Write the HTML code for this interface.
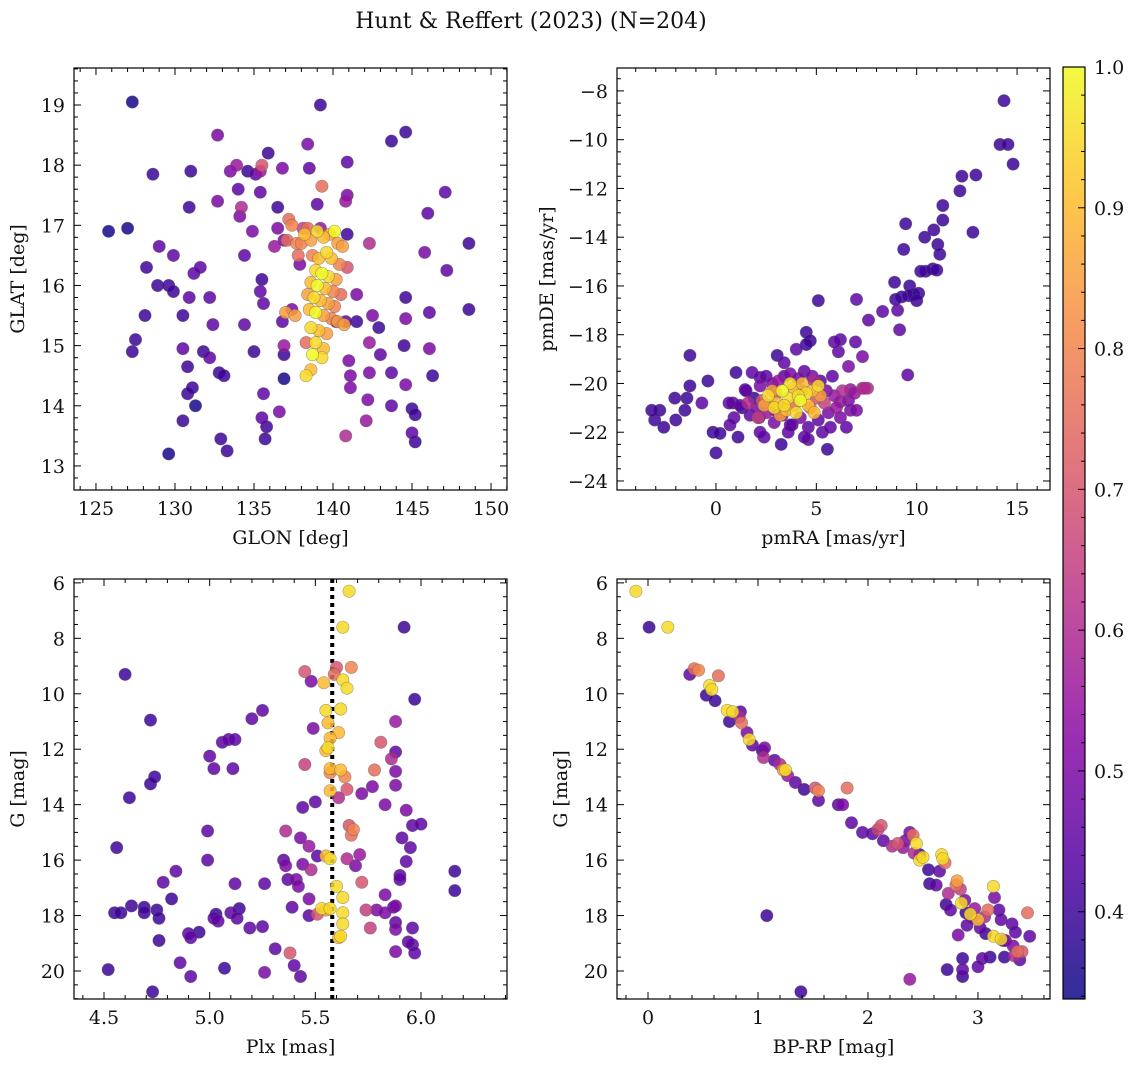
<!DOCTYPE html>
<html><head><meta charset="utf-8"><style>
html,body{margin:0;padding:0;background:#fff}
svg text{font-family:"DejaVu Serif","Liberation Serif",serif;fill:#111}
</style></head><body>
<svg id="fig" width="1136" height="1067" viewBox="0 0 1136 1067" xmlns="http://www.w3.org/2000/svg">
<text x="531" y="28" font-size="22" text-anchor="middle">Hunt &amp; Reffert (2023) (N=204)</text>
<defs><linearGradient id="cbg" x1="0" y1="1" x2="0" y2="0"></linearGradient></defs>
</svg>
<script>
// ---------- DATA ----------
const tlGlon=[125.8,127.0,127.3,128.6,128.2,128.1,127.5,127.3,129.0,129.9,128.9,129.6,129.9,129.6,130.5,130.5,130.5,130.8,130.8,131.1,131.3,131.0,130.9,131.2,130.9,131.6,131.8,132.2,132.2,132.4,132.7,132.8,132.9,133.3,133.1,132.7,133.5,133.9,134.0,134.2,134.1,134.4,134.4,134.9,135.0,134.6,135.1,135.4,135.5,135.9,135.4,135.5,135.4,135.6,135.5,135.8,135.7,135.6,136.3,136.5,136.5,136.6,136.8,136.9,136.9,136.8,136.9,137.1,137.2,137.0,136.9,137.4,137.7,137.8,137.9,138.0,138.1,139.2,138.4,138.5,139.0,139.3,139.2,140.9,140.9,140.8,140.9,140.9,141.0,141.1,141.1,140.8,140.8,142.3,142.3,142.3,142.2,142.1,142.5,142.9,143.0,143.7,143.7,144.6,144.6,144.6,144.6,144.5,145.0,145.2,145.0,145.2,146.0,145.8,146.1,146.3,146.1,147.1,147.2,148.6,148.6,143.7,140.2,141.5,141.5,
138.2,138.6,139.0,139.4,139.8,140.1,140.3,140.6,139.6,139.1,138.7,139.9,140.4,138.9,139.3,139.7,140.2,138.6,139.0,139.5,140.0,140.5,138.4,138.8,139.2,139.7,140.1,138.5,138.9,139.4,139.9,140.3,138.6,139.1,139.6,138.3,138.9,139.4,138.7,139.3,138.6,138.3,138.4,137.4,137.6,140.7];
const tlGlat=[16.9,16.95,19.05,17.85,16.3,15.5,15.1,14.9,16.65,16.5,16.0,16.0,15.9,13.2,15.5,14.95,13.75,14.65,14.2,14.3,14.0,17.9,17.3,16.2,15.8,16.3,14.9,14.8,15.8,15.35,18.5,14.55,13.45,13.25,14.5,17.4,17.9,18.0,17.6,17.3,17.15,15.35,16.5,16.9,14.9,17.9,17.85,17.9,18.0,18.2,17.55,16.1,15.9,14.2,13.8,13.65,13.45,15.7,16.65,17.3,16.95,13.9,15.4,14.85,14.45,17.95,16.75,16.75,17.1,15.55,15.0,15.6,16.7,16.5,16.35,16.7,16.95,19.0,18.35,17.95,17.35,17.65,16.95,18.05,17.5,17.4,16.85,16.3,14.75,14.5,14.3,15.4,13.5,15.05,16.7,14.55,14.1,13.75,15.5,15.3,14.85,14.55,18.4,18.55,15.8,15.45,14.35,15.0,13.95,13.85,13.55,13.4,17.2,16.55,15.55,14.5,14.95,17.55,16.25,16.7,15.6,14.0,15.4,15.85,15.4,
16.85,16.75,16.9,16.8,16.85,16.9,16.7,16.65,16.55,16.45,16.5,16.45,16.35,16.25,16.2,16.15,16.1,16.05,16.0,15.95,15.9,15.85,15.85,15.8,15.75,15.7,15.65,15.6,15.55,15.5,15.45,15.4,15.3,15.25,15.2,15.05,15.05,14.95,14.85,14.8,14.6,14.5,16.95,17.0,15.5,15.35];
const tlProb=[.35,.35,.35,.4,.4,.4,.4,.4,.45,.45,.4,.4,.4,.35,.4,.45,.4,.4,.4,.4,.35,.4,.4,.45,.45,.45,.4,.45,.45,.45,.5,.4,.4,.4,.4,.5,.5,.55,.45,.6,.5,.45,.45,.5,.4,.4,.45,.55,.7,.4,.45,.4,.45,.45,.45,.4,.4,.45,.55,.4,.5,.5,.45,.4,.35,.5,.5,.75,.75,.85,.55,.5,.8,.75,.5,.8,.65,.4,.5,.45,.45,.75,.55,.45,.5,.55,.4,.7,.5,.5,.5,.45,.6,.55,.6,.5,.5,.55,.5,.4,.45,.45,.4,.4,.4,.5,.5,.4,.4,.4,.45,.4,.45,.5,.45,.4,.5,.45,.45,.4,.4,.45,.45,.5,.4,
.9,.85,.95,.9,.85,1,.85,.85,.95,.9,.8,.9,.8,.95,1,.95,.85,.9,1,.9,.8,.75,.85,.95,.9,.85,.8,.9,1,.85,.8,.85,.95,.9,.85,.75,.95,.9,1,.95,.9,.95,.75,.8,.85,.85];

const trPmra=[14.35,14.15,14.55,14.8,12.95,12.25,12.15,11.3,11.3,12.8,9.45,10.85,10.4,11.05,9.35,11.15,10.8,10.45,11.0,10.2,8.9,9.65,9.85,9.6,9.25,8.95,10.1,10.0,9.05,8.3,7.0,5.1,7.6,9.15,6.95,6.2,6.1,5.9,7.3,4.5,4.7,4.5,4.0,3.05,3.4,6.6,9.55,-1.3,
-3.05,-2.8,-3.2,-2.6,-2.05,-2.0,-1.45,-1.3,-1.55,-0.7,-0.4,-0.15,0,0.2,0.9,0.85,1.0,1.8,2.2,1.45,1.2,0.65,0.7,1.1,2.15,2.4,2.95,3.25,3.7,5.3,5.55,4.6,6.2,6.7,7.55,6.7,7.3,
1.5,1.9,2.2,2.5,2.8,3.1,3.4,3.7,4.1,4.4,4.8,5.2,5.5,5.9,6.3,6.6,6.9,7.4,6.0,5.6,5.1,4.6,4.2,3.8,3.3,2.9,2.5,2.0,1.7,1.3,2.3,2.7,3.0,3.4,3.9,4.3,4.7,5.0,5.4,2.1,1.6,4.9,6.2,5.7,5.8,6.5,7.0,3.6,4.4,2.2,
2.6,3.0,3.3,3.6,3.9,4.2,4.5,4.8,5.1,3.5,4.0,4.6,2.9,2.4,3.2,4.3,3.7,5.2,4.9,2.8,3.4,4.1];
const trPmde=[-8.4,-10.2,-10.2,-11.0,-11.45,-11.5,-12.1,-12.7,-13.3,-13.8,-13.45,-13.7,-14.0,-14.3,-14.5,-14.7,-15.3,-15.4,-15.35,-15.4,-15.85,-16.0,-16.35,-16.4,-16.45,-16.55,-16.3,-16.6,-17.0,-17.05,-16.55,-16.6,-17.4,-17.8,-18.3,-18.2,-18.7,-18.3,-18.9,-17.9,-18.25,-18.4,-18.6,-18.85,-19.15,-19.3,-19.65,-18.85,
-21.5,-21.1,-21.1,-21.8,-20.6,-21.5,-20.6,-20.1,-21.1,-20.8,-19.9,-22.0,-22.85,-22.05,-21.4,-20.8,-19.55,-19.55,-19.75,-20.25,-20.9,-20.8,-21.7,-22.2,-21.4,-22.2,-21.1,-22.5,-21.7,-22.0,-22.7,-22.3,-20.75,-20.25,-20.2,-21.1,-20.2,
-20.3,-20.6,-20.1,-19.7,-20.0,-19.9,-19.7,-19.6,-19.8,-19.5,-19.7,-19.9,-20.3,-20.5,-20.3,-20.7,-20.4,-20.2,-21.0,-21.2,-21.5,-21.8,-21.4,-21.7,-21.3,-21.6,-21.2,-21.0,-21.3,-21.0,-20.7,-20.9,-20.4,-21.0,-20.9,-20.3,-21.0,-20.6,-20.8,-21.4,-20.8,-19.9,-21.4,-21.8,-19.7,-21.8,-21.1,-22.0,-22.2,-22.0,
-20.5,-20.8,-20.3,-20.6,-20.2,-20.7,-20.4,-20.3,-20.1,-21.1,-21.2,-20.9,-21.0,-20.9,-21.3,-20.0,-20.0,-20.5,-21.2,-20.3,-20.9,-20.5];
const trProb=[.4,.4,.4,.4,.4,.4,.4,.4,.4,.4,.4,.4,.4,.4,.4,.4,.4,.4,.4,.4,.4,.4,.4,.4,.4,.4,.4,.4,.45,.45,.45,.4,.45,.45,.45,.45,.45,.45,.5,.4,.4,.4,.45,.4,.45,.5,.45,.4,
.4,.4,.4,.4,.4,.4,.4,.4,.4,.45,.4,.4,.4,.4,.45,.45,.4,.45,.45,.45,.45,.45,.45,.4,.45,.45,.45,.4,.45,.45,.4,.45,.55,.55,.6,.5,.6,
.45,.4,.5,.45,.5,.55,.45,.5,.5,.45,.5,.45,.5,.55,.6,.5,.55,.6,.55,.5,.45,.45,.5,.45,.5,.5,.55,.5,.45,.4,.7,.75,.7,.65,.75,.7,.75,.7,.65,.65,.6,.6,.5,.45,.45,.45,.5,.45,.45,.45,
.95,.9,1,.95,.9,1,.95,.9,.95,.9,.95,.9,.95,.85,.85,.9,.95,.85,.9,.85,.95,.95];

const blPlx=[4.52,4.55,4.56,4.58,4.6,4.72,4.62,4.63,4.69,4.69,4.72,4.74,4.73,4.75,4.76,4.76,4.78,4.84,4.82,4.86,4.9,4.91,4.95,4.91,4.99,4.99,5.0,5.02,5.02,5.03,5.04,5.06,5.09,5.07,5.1,5.11,5.12,5.13,5.12,5.14,5.19,5.2,5.25,5.26,5.25,5.26,5.31,5.35,5.36,5.36,5.37,5.38,5.39,5.4,5.41,5.42,5.43,5.43,5.44,5.45,5.45,5.44,5.47,5.47,5.47,5.48,5.48,5.49,5.5,5.51,5.51,
5.55,5.56,5.57,5.57,5.61,5.62,5.63,5.66,5.63,5.65,5.67,5.6,5.59,5.54,5.56,5.57,5.55,5.57,5.64,5.62,5.65,5.61,5.66,5.67,5.72,5.77,5.78,5.81,5.83,5.86,5.88,5.88,5.88,5.88,5.91,5.93,5.92,5.97,
5.96,6.0,5.95,5.93,5.9,5.9,5.96,5.96,5.97,5.94,5.88,5.88,5.88,5.88,5.87,5.79,5.76,5.83,5.83,5.74,5.72,5.69,5.71,5.65,5.57,5.55,5.53,5.6,5.63,5.63,5.63,5.61,5.62,5.57,5.55,5.68,6.16,6.16,6.23];
const blG=[19.95,17.9,15.55,17.9,9.3,10.95,13.75,17.65,17.7,17.9,13.25,13.0,20.75,17.8,18.1,18.9,16.8,16.4,17.4,19.7,18.65,18.8,18.6,20.2,14.95,16.0,12.25,12.7,18.1,17.95,18.2,11.75,11.65,19.9,17.9,12.7,16.85,18.1,11.65,17.75,18.45,10.9,10.6,16.85,18.4,20.05,19.2,16.0,14.95,16.2,16.7,19.35,17.7,19.8,16.7,16.95,15.2,20.2,16.15,9.2,12.55,14.1,15.5,17.4,18.0,16.35,9.55,11.25,13.9,15.85,17.95,
10.6,11.95,12.7,13.5,11.4,10.55,9.5,6.3,7.6,9.8,9.05,9.05,9.3,9.6,11.05,11.6,12.05,12.85,13.0,12.75,13.45,13.75,14.75,15.1,13.6,13.35,12.75,11.75,14.0,12.35,12.8,12.1,13.3,11.0,15.2,14.2,7.6,10.2,
14.75,14.7,15.55,16.05,16.55,16.7,18.45,19.05,19.35,18.95,18.5,19.3,18.25,17.65,17.7,17.8,18.45,17.25,17.9,17.8,16.8,16.2,15.8,15.95,15.95,15.85,17.75,16.95,17.35,17.9,18.3,18.8,18.75,17.75,17.8,14.9,17.1,16.4];
const blProb=[.4,.4,.4,.4,.4,.4,.4,.4,.4,.4,.4,.4,.4,.4,.4,.4,.45,.45,.4,.45,.45,.45,.4,.45,.45,.45,.45,.45,.45,.4,.45,.45,.45,.4,.45,.45,.45,.45,.45,.4,.45,.45,.45,.45,.45,.5,.45,.45,.6,.5,.45,.7,.45,.45,.5,.5,.5,.45,.5,.7,.65,.45,.55,.5,.45,.6,.5,.5,.45,.45,.7,
.95,.95,.9,.9,.9,.95,.95,.95,.95,.95,.8,.7,.75,.9,.9,.9,.9,.8,.8,.9,.7,.6,.7,.75,.5,.5,.75,.7,.5,.6,.5,.45,.5,.55,.45,.5,.4,.4,
.45,.45,.45,.45,.45,.45,.45,.45,.45,.45,.5,.5,.45,.5,.45,.5,.65,.5,.5,.65,.7,.5,.55,.6,.95,.9,.95,.95,.95,.95,.95,.9,.95,.95,.85,.8,.4,.4,.45];

const brColor=[-0.11,0.01,0.18,0.38,0.42,0.46,0.64,0.56,0.58,0.53,0.61,0.72,0.77,0.74,0.84,0.83,0.85,0.9,0.92,0.95,1.04,1.06,1.05,1.15,1.2,1.23,1.25,1.27,1.34,1.42,1.52,1.55,1.55,1.73,1.81,1.77,1.85,1.95,2.04,2.09,2.12,2.14,2.22,2.27,2.32,2.34,2.38,2.41,2.44,2.42,2.47,2.47,2.5,2.55,2.56,2.62,2.67,2.68,2.7,2.65,2.73,2.8,2.81,2.84,2.85,2.88,2.89,2.93,2.97,3.0,2.95,2.9,3.02,3.06,3.09,3.14,3.15,3.19,3.21,3.14,3.07,3.23,3.21,3.25,3.31,3.34,3.45,3.47,3.32,3.36,3.33,3.4,3.38,3.24,3.11,3.04,3.0,2.86,2.86,2.72,2.86,2.38,1.08,1.39,2.82,2.75,2.71];
const brG=[6.3,7.6,7.6,9.3,9.1,9.15,9.35,9.7,9.85,10.05,10.25,10.6,10.65,11.0,10.65,10.85,11.05,11.4,11.65,11.85,12.05,11.95,12.3,12.4,12.55,12.75,12.75,12.95,13.2,13.45,13.4,13.5,13.85,14.0,13.4,14.0,14.65,15.0,15.05,14.9,14.75,15.3,15.5,15.4,15.55,15.3,15.0,15.1,15.4,15.75,15.8,16.0,15.9,16.35,16.85,16.9,15.8,15.95,16.1,16.4,17.2,16.9,16.75,17.05,17.55,17.45,17.9,17.95,17.75,18.15,18.1,18.35,18.45,18.05,17.8,16.95,17.35,17.8,18.15,18.75,18.65,18.9,18.85,18.9,18.3,18.6,17.9,18.75,19.1,19.3,19.45,19.3,19.6,19.5,19.5,19.55,19.85,19.55,19.95,19.95,20.2,20.3,18.0,20.75,18.7,17.8,17.6];
const brProb=[.95,.4,.95,.45,.75,.8,.75,.95,.95,.4,.4,.95,.95,.4,.45,.6,.75,.5,.95,.45,.4,.5,.6,.45,.6,.85,.95,.55,.45,.4,.7,.8,.45,.45,.75,.5,.45,.45,.45,.65,.7,.45,.6,.7,.55,.5,.5,.75,.95,.6,.4,.95,.95,.4,.4,.45,.95,.95,.75,.45,.6,.75,.85,.65,.95,.5,.4,.95,.55,.9,.5,.45,.45,.6,.75,.95,.5,.45,.45,.95,.4,.45,.95,.5,.45,.45,.75,.45,.5,.75,.6,.7,.45,.4,.4,.45,.45,.4,.45,.4,.4,.55,.4,.4,.5,.45,.4];

const cbTicks=[0.4,0.5,0.6,0.7,0.8,0.9,1.0];
// ---------- HELPERS ----------
const NS="http://www.w3.org/2000/svg";
const svg=document.getElementById('fig');
function mk(tag,attrs,parent){const e=document.createElementNS(NS,tag);for(const k in attrs)e.setAttribute(k,attrs[k]);(parent||svg).appendChild(e);return e;}
const plasma=[[13,8,135],[84,2,163],[139,10,165],[185,50,137],[219,92,104],[244,136,73],[254,188,43],[240,249,33]];
const VMIN=0.338,VMAX=1.0;
function cmap(v){let t=(v-VMIN)/(VMAX-VMIN);t=Math.max(0,Math.min(1,t));const s=t*(plasma.length-1);const i=Math.min(Math.floor(s),plasma.length-2);const f=s-i;const a=plasma[i],b=plasma[i+1];return `rgb(${Math.round(a[0]+(b[0]-a[0])*f)},${Math.round(a[1]+(b[1]-a[1])*f)},${Math.round(a[2]+(b[2]-a[2])*f)})`;}
function fmt(v,d){return (v<0?'\u2212':'')+Math.abs(v).toFixed(d);}
const TFS=19;

function panel(cfg){
  const g=mk('g',{});
  
  
  const sx=v=>cfg.x0+(v-cfg.xa)/(cfg.xb-cfg.xa)*(cfg.x1-cfg.x0);
  const sy=v=>cfg.y0+(v-cfg.ya)/(cfg.yb-cfg.ya)*(cfg.y1-cfg.y0);
  const clip='clip-'+cfg.name;
  const cp=mk('clipPath',{id:clip},g);mk('rect',{x:cfg.x0,y:cfg.y0,width:cfg.x1-cfg.x0,height:cfg.y1-cfg.y0},cp);
  const pts=mk('g',{'clip-path':`url(#${clip})`},g);
  
  
  if(cfg.vline!==undefined){
    const l=mk('line',{x1:sx(cfg.vline),x2:sx(cfg.vline),y1:cfg.y0,y2:cfg.y1,stroke:'#000','stroke-width':4,'stroke-dasharray':'4,4'},pts);
    
    
  }
  const idx=cfg.xs.map((_,i)=>i).sort((a,b)=>cfg.ps[a]-cfg.ps[b]);
  for(const i of idx){
    const c=mk('circle',{cx:sx(cfg.xs[i]).toFixed(1),cy:sy(cfg.ys[i]).toFixed(1),r:6.2,fill:cmap(cfg.ps[i]),'fill-opacity':0.85,stroke:'rgba(90,90,90,0.55)','stroke-width':0.6},pts);
    
    
  }
  const fr=mk('rect',{x:cfg.x0,y:cfg.y0,width:cfg.x1-cfg.x0,height:cfg.y1-cfg.y0,fill:'none',stroke:'#000','stroke-width':1.2},g);
  
  
  const lo=(a,b)=>Math.min(a,b),hi=(a,b)=>Math.max(a,b);
  const xmin=lo(cfg.xa,cfg.xb),xmax=hi(cfg.xa,cfg.xb);
  for(let k=Math.ceil(xmin/cfg.xminor-1e-6);k*cfg.xminor<=xmax+1e-9;k++){
    const v=k*cfg.xminor;const px=sx(v);
    const major=Math.abs(v/cfg.xmajor-Math.round(v/cfg.xmajor))<1e-6;
    const L=major?7:4;
    mk('line',{x1:px,x2:px,y1:cfg.y1,y2:cfg.y1-L,stroke:'#000','stroke-width':1},g);
    mk('line',{x1:px,x2:px,y1:cfg.y0,y2:cfg.y0+L,stroke:'#000','stroke-width':1},g);
    if(major){const t=mk('text',{x:px,y:cfg.y1+25,'font-size':TFS,'text-anchor':'middle'},g);t.textContent=fmt(v,cfg.xdec);
      }
  }
  const ymin=lo(cfg.ya,cfg.yb),ymax=hi(cfg.ya,cfg.yb);
  for(let k=Math.ceil(ymin/cfg.yminor-1e-6);k*cfg.yminor<=ymax+1e-9;k++){
    const v=k*cfg.yminor;const py=sy(v);
    const major=Math.abs(v/cfg.ymajor-Math.round(v/cfg.ymajor))<1e-6;
    const L=major?7:4;
    mk('line',{x1:cfg.x0,x2:cfg.x0+L,y1:py,y2:py,stroke:'#000','stroke-width':1},g);
    mk('line',{x1:cfg.x1,x2:cfg.x1-L,y1:py,y2:py,stroke:'#000','stroke-width':1},g);
    if(major){const t=mk('text',{x:cfg.x0-9,y:py+7,'font-size':TFS,'text-anchor':'end'},g);t.textContent=fmt(v,cfg.ydec);
      }
  }
  const xl=mk('text',{x:(cfg.x0+cfg.x1)/2,y:cfg.y1+54,'font-size':TFS,'text-anchor':'middle'},g);xl.textContent=cfg.xlabel;
  
  const yc=(cfg.y0+cfg.y1)/2;
  const yl=mk('text',{x:cfg.ylx,y:yc,'font-size':TFS,'text-anchor':'middle',transform:`rotate(-90 ${cfg.ylx} ${yc})`},g);yl.textContent=cfg.ylabel;
  
}

panel({name:'glon-glat-panel',x0:74,x1:507,y0:68,y1:490,xa:123.61,xb:151.01,ya:19.615,yb:12.6,xmajor:5,xminor:1,ymajor:1,yminor:0.2,xdec:0,ydec:0,xs:tlGlon,ys:tlGlat,ps:tlProb,xlabel:'GLON [deg]',ylabel:'GLAT [deg]',ylx:24});
panel({name:'proper-motion-panel',x0:617,x1:1050,y0:68,y1:490,xa:-4.93,xb:16.64,ya:-7.06,yb:-24.37,xmajor:5,xminor:1,ymajor:2,yminor:0.5,xdec:0,ydec:0,xs:trPmra,ys:trPmde,ps:trProb,xlabel:'pmRA [mas/yr]',ylabel:'pmDE [mas/yr]',ylx:553});
panel({name:'parallax-magnitude-panel',x0:74,x1:507,y0:579,y1:999,xa:4.358,xb:6.407,ya:5.86,yb:21.01,xmajor:0.5,xminor:0.1,ymajor:2,yminor:0.5,xdec:1,ydec:0,xs:blPlx,ys:blG,ps:blProb,xlabel:'Plx [mas]',ylabel:'G [mag]',ylx:24,vline:5.58});
panel({name:'cmd-panel',x0:617,x1:1050,y0:579,y1:999,xa:-0.282,xb:3.655,ya:5.86,yb:21.01,xmajor:1,xminor:0.2,ymajor:2,yminor:0.5,xdec:0,ydec:0,xs:brColor,ys:brG,ps:brProb,xlabel:'BP-RP [mag]',ylabel:'G [mag]',ylx:567});

const grad=document.getElementById('cbg');
for(let i=0;i<plasma.length;i++){mk('stop',{offset:(i/(plasma.length-1)),'stop-color':`rgb(${plasma[i].join(',')})`,'stop-opacity':0.85},grad);}
const cbx0=1063,cbx1=1085,cby0=67,cby1=999;
const cb=mk('g',{});


mk('rect',{x:cbx0,y:cby0,width:cbx1-cbx0,height:cby1-cby0,fill:'url(#cbg)',stroke:'#000','stroke-width':1.2},cb);
const cy=v=>cby1-(v-VMIN)/(VMAX-VMIN)*(cby1-cby0);
for(let k=Math.ceil(VMIN/0.02);k*0.02<=VMAX+1e-9;k++){
  const v=k*0.02;const major=(k%5===0);
  mk('line',{x1:cbx1,x2:cbx1-(major?7:4),y1:cy(v),y2:cy(v),stroke:'#000','stroke-width':1},cb);
}
for(const v of cbTicks){const t=mk('text',{x:1094,y:cy(v)+7,'font-size':TFS},cb);t.textContent=v.toFixed(1);
  }
</script>
</body></html>
